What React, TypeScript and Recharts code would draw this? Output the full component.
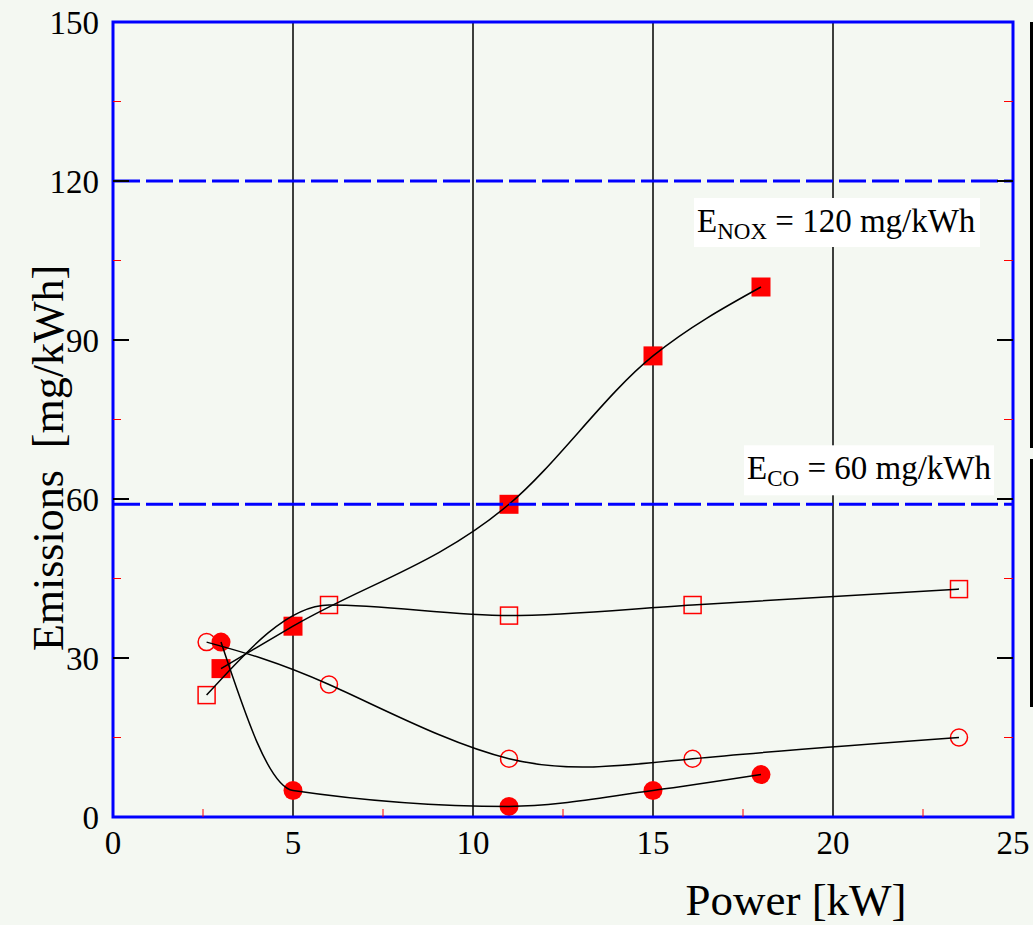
import React from 'react';
import {
  ComposedChart,
  XAxis,
  YAxis,
  Scatter,
  Line,
  ReferenceLine,
  ReferenceArea,
} from 'recharts';

// ---------- data ----------
const powerFilled = [3, 5, 11, 15, 18];
const powerOpen = [2.6, 6, 11, 16.1, 23.5];
const filledSquareValues = [28, 36, 59, 87, 100];
const openSquareValues = [23, 40, 38, 40, 43];
const openCircleValues = [33, 25, 11, 11, 15];
const filledCircleValues = [33, 5, 2, 5, 8];

const xTicks = [0, 2.5, 5, 7.5, 10, 12.5, 15, 17.5, 20, 22.5, 25];
const yTicks = [0, 15, 30, 45, 60, 75, 90, 105, 120, 135, 150];
const xGrid = [5, 10, 15, 20];
const noxLimit = 120;
const coLimit = 59;

const toPoints = (xs: number[], ys: number[]) => xs.map((x, i) => ({ x, y: ys[i] }));
const filledSquares = toPoints(powerFilled, filledSquareValues);
const openSquares = toPoints(powerOpen, openSquareValues);
const openCircles = toPoints(powerOpen, openCircleValues);
const filledCircles = toPoints(powerFilled, filledCircleValues);

// ---------- style ----------
const W = 1033;
const H = 925;
const PLOT_W = 900;
const FONT = '"Liberation Serif", "Times New Roman", Times, serif';
const BLUE = '#0000ff';
const RED = '#ff0000';
const BG = '#f4f8f2';

const XTick = (props: any) => {
  const { x, y, payload } = props;
  const v = payload.value;
  if (v % 5 === 0) {
    return (
      <text x={x} y={y + 37} textAnchor="middle" fontSize={33} fontFamily={FONT} fill="#000">
        {v}
      </text>
    );
  }
  return <line x1={x} x2={x} y1={y} y2={y - 8} stroke={RED} strokeWidth={1} />;
};

const YTick = (props: any) => {
  const { x, y, payload } = props;
  const v = payload.value;
  const major = v % 30 === 0;
  const edge = v === yTicks[0] || v === yTicks[yTicks.length - 1];
  if (major) {
    return (
      <g>
        <text x={x - 14} y={y + 12} textAnchor="end" fontSize={33} fontFamily={FONT} fill="#000">
          {v}
        </text>
        {!edge && (
          <>
            <line x1={x} x2={x + 16} y1={y} y2={y} stroke="#000" strokeWidth={2} />
            <line x1={x + PLOT_W - 16} x2={x + PLOT_W} y1={y} y2={y} stroke="#000" strokeWidth={2} />
          </>
        )}
      </g>
    );
  }
  return (
    <g>
      <line x1={x} x2={x + 8} y1={y} y2={y} stroke={RED} strokeWidth={1} />
      <line x1={x + PLOT_W - 9} x2={x + PLOT_W} y1={y} y2={y} stroke={RED} strokeWidth={1} />
    </g>
  );
};

const FilledSquare = (p: any) => <rect x={p.cx - 9.5} y={p.cy - 9.5} width={19} height={19} fill={RED} />;
const OpenSquare = (p: any) => (
  <rect x={p.cx - 8.5} y={p.cy - 8.5} width={17} height={17} fill={BG} stroke={RED} strokeWidth={1.5} />
);
const OpenCircle = (p: any) => <circle cx={p.cx} cy={p.cy} r={8.5} fill={BG} stroke={RED} strokeWidth={1.5} />;
const FilledCircle = (p: any) => <circle cx={p.cx} cy={p.cy} r={9.5} fill={RED} />;

const makeLimitLabel =
  (sub: string, rest: string, dx: number, dy: number, boxW: number, boxTop: number, boxH: number) =>
  (props: any) => {
    const vb = props.viewBox || {};
    const right = (vb.x ?? 0) + (vb.width ?? 0);
    const ly = vb.y ?? 0;
    const left = right - dx;
    return (
      <g>
        <rect x={left - 3} y={ly + boxTop} width={boxW} height={boxH} fill="#ffffff" />
        <text x={left} y={ly + dy} fontFamily={FONT} fontSize={33} fill="#000" style={{ whiteSpace: 'pre' }}>
          <tspan>E</tspan>
          <tspan fontSize={23} dy={7}>
            {sub}
          </tspan>
          <tspan dy={-7}>{rest}</tspan>
        </text>
      </g>
    );
  };

const NoxLabel = makeLimitLabel('NOX', ' = 120 mg/kWh', 316, 51, 286, 17, 49);
const CoLabel = makeLimitLabel('CO', ' = 60 mg/kWh', 266, -25, 250, -59, 50);

const XTitle = (props: any) => {
  const vb = props.viewBox || {};
  return (
    <text x={(vb.x ?? 0) + 683} y={(vb.y ?? 0) + 98} textAnchor="middle" fontSize={45} fontFamily={FONT} fill="#000">
      Power [kW]
    </text>
  );
};

const YTitle = (props: any) => {
  const vb = props.viewBox || {};
  const cx = (vb.x ?? 0) + 63;
  const cy = (vb.y ?? 0) + 436;
  return (
    <text
      x={cx}
      y={cy}
      transform={`rotate(-90 ${cx} ${cy})`}
      textAnchor="middle"
      fontSize={44}
      fontFamily={FONT}
      fill="#000"
    >
      {'Emissions\u00A0\u00A0[mg/kWh]'}
    </text>
  );
};

export default function App() {
  return (
    <div
      style={{
        position: 'absolute',
        left: 0,
        top: 0,
        width: W,
        height: H,
        overflow: 'hidden',
        background: BG,
      }}
    >
      <ComposedChart width={W} height={H} margin={{ top: 22, right: 20, left: 0, bottom: 0 }}>
        <XAxis
          dataKey="x"
          type="number"
          domain={[0, 25]}
          ticks={xTicks}
          interval={0}
          allowDataOverflow
          tickSize={0}
          tickMargin={0}
          tickLine={false}
          axisLine={false}
          height={108}
          tick={<XTick />}
          label={XTitle}
        />
        <YAxis
          dataKey="y"
          type="number"
          domain={[0, 150]}
          ticks={yTicks}
          interval={0}
          allowDataOverflow
          tickSize={0}
          tickMargin={0}
          tickLine={false}
          axisLine={false}
          width={113}
          tick={<YTick />}
          label={YTitle}
        />
        {xGrid.map((g) => (
          <ReferenceLine key={g} x={g} stroke="#000" strokeWidth={1.5} zIndex={-50} />
        ))}
        <Scatter data={filledSquares} shape={FilledSquare} isAnimationActive={false} zIndex={600} />
        <Scatter data={openSquares} shape={OpenSquare} isAnimationActive={false} zIndex={600} />
        <Scatter data={openCircles} shape={OpenCircle} isAnimationActive={false} zIndex={600} />
        <Scatter data={filledCircles} shape={FilledCircle} isAnimationActive={false} zIndex={600} />
        <Line data={filledSquares} dataKey="y" type="monotone" stroke="#000" strokeWidth={1.5} dot={false} activeDot={false} isAnimationActive={false} zIndex={700} />
        <Line data={openSquares} dataKey="y" type="monotone" stroke="#000" strokeWidth={1.5} dot={false} activeDot={false} isAnimationActive={false} zIndex={700} />
        <Line data={openCircles} dataKey="y" type="natural" stroke="#000" strokeWidth={1.5} dot={false} activeDot={false} isAnimationActive={false} zIndex={700} />
        <Line data={filledCircles} dataKey="y" type="monotone" stroke="#000" strokeWidth={1.5} dot={false} activeDot={false} isAnimationActive={false} zIndex={700} />
        <ReferenceLine y={noxLimit} stroke={BLUE} strokeWidth={3} strokeDasharray="27 6" label={NoxLabel} zIndex={750} />
        <ReferenceLine y={coLimit} stroke={BLUE} strokeWidth={3} strokeDasharray="27 6" label={CoLabel} zIndex={750} />
        <ReferenceArea x1={0} x2={25} y1={0} y2={150} fill="none" fillOpacity={0} stroke={BLUE} strokeWidth={3} zIndex={800} />
      </ComposedChart>
      <div
        style={{
          position: 'absolute',
          left: 1030,
          top: 22,
          width: 40,
          height: 426,
          border: '3px solid #000',
          boxSizing: 'border-box',
        }}
      />
      <div
        style={{
          position: 'absolute',
          left: 1030,
          top: 459,
          width: 40,
          height: 248,
          border: '3px solid #000',
          boxSizing: 'border-box',
        }}
      />
    </div>
  );
}
